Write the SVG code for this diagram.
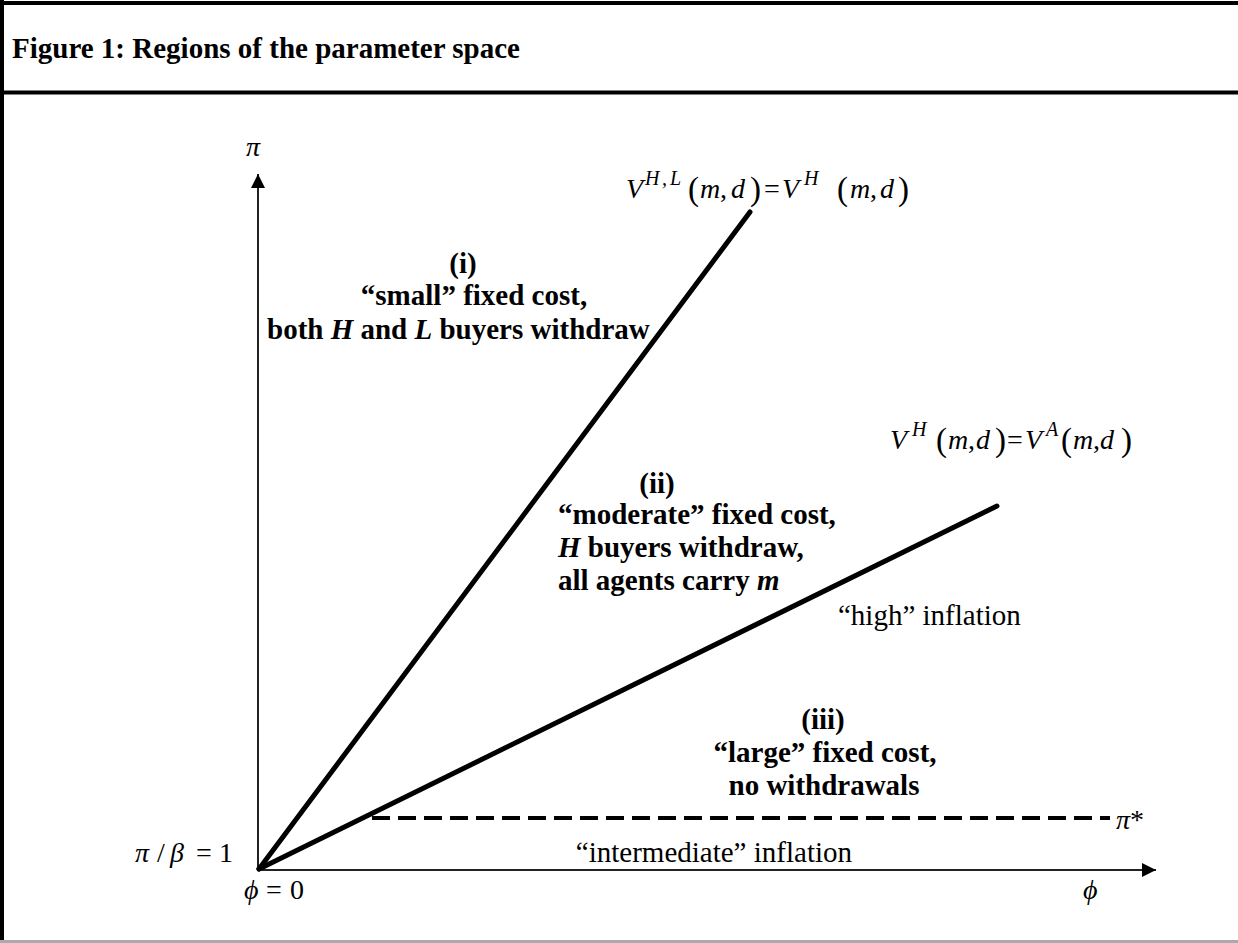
<svg xmlns="http://www.w3.org/2000/svg" width="1238" height="943" viewBox="0 0 1238 943">
<style>
text{font-family:"Liberation Serif","Times New Roman",serif;fill:#000}
.t{font-size:29px;font-weight:bold}
.b{font-size:29px;font-weight:bold}
.n{font-size:29px}
.m{font-size:28px;font-style:italic}
.u{font-size:28px;font-style:normal}
.p{font-size:33px;font-style:normal}
.sup{font-size:20px;font-style:italic}
.thick{stroke:#000;stroke-width:5;fill:none;stroke-linecap:round}
.axis{stroke:#222;stroke-width:2;fill:none}
</style>
<defs>
<marker id="ah" viewBox="0 0 10 10" refX="10" refY="5" markerWidth="15" markerHeight="14" markerUnits="userSpaceOnUse" orient="auto">
<path d="M0,0 L10,5 L0,10 z" fill="#000"/>
</marker>
</defs>
<rect width="1238" height="943" fill="#fff"/>
<g id="frame">
<line x1="0" y1="3" x2="1238" y2="3" stroke="#000" stroke-width="4"/>
<line x1="2" y1="0" x2="2" y2="943" stroke="#000" stroke-width="4"/>
<line x1="0" y1="92.5" x2="1238" y2="92.5" stroke="#000" stroke-width="4"/>
<line x1="0" y1="941.5" x2="1238" y2="941.5" stroke="#aaa" stroke-width="3"/>
</g>
<g id="title"><text class="t" x="12" y="58">Figure 1: Regions of the parameter space</text></g>
<g id="connectors">
<line class="axis" x1="258" y1="871" x2="258" y2="174" marker-end="url(#ah)"/>
<line class="axis" x1="257" y1="870" x2="1156" y2="870" marker-end="url(#ah)"/>
<line class="thick" x1="259" y1="869" x2="750" y2="212"/>
<line class="thick" x1="259" y1="869" x2="997" y2="506"/>
<line x1="372" y1="818" x2="1110" y2="818" stroke="#000" stroke-width="4" stroke-dasharray="18,8"/>
</g>
<g id="axis-labels">
<text class="m" x="246" y="156">π</text>
<text class="m" y="862"><tspan x="135">π</tspan><tspan x="157" class="u">/</tspan><tspan x="170">β</tspan><tspan x="196" class="u">=</tspan><tspan x="219" class="u">1</tspan></text>
<text class="m" y="899"><tspan x="244">ϕ</tspan><tspan x="266" class="u">=</tspan><tspan x="290" class="u">0</tspan></text>
<text class="m" x="1083" y="899">ϕ</text>
<text class="m" x="1116" y="829">π<tspan class="u">*</tspan></text>
</g>
<g id="curve-labels">
<text class="m" y="198"><tspan x="626">V</tspan><tspan class="sup" x="645" y="185">H</tspan><tspan class="sup" x="662">,</tspan><tspan class="sup" x="670">L</tspan><tspan class="p" x="688" y="200">(</tspan><tspan x="700" y="198">m</tspan><tspan class="u" x="720">,</tspan><tspan x="731">d</tspan><tspan class="p" x="750" y="200">)</tspan><tspan class="u" x="764" y="198">=</tspan><tspan x="782">V</tspan><tspan class="sup" x="804" y="185">H</tspan><tspan class="p" x="837" y="200">(</tspan><tspan x="850" y="198">m</tspan><tspan class="u" x="870">,</tspan><tspan x="880">d</tspan><tspan class="p" x="898" y="200">)</tspan></text>
<text class="m" y="449"><tspan x="890">V</tspan><tspan class="sup" x="912" y="436">H</tspan><tspan class="p" x="936" y="451">(</tspan><tspan x="948" y="449">m</tspan><tspan class="u" x="968">,</tspan><tspan x="976">d</tspan><tspan class="p" x="995" y="451">)</tspan><tspan class="u" x="1007" y="449">=</tspan><tspan x="1025">V</tspan><tspan class="sup" x="1046" y="436">A</tspan><tspan class="p" x="1061" y="451">(</tspan><tspan x="1073" y="449">m</tspan><tspan class="u" x="1093">,</tspan><tspan x="1100">d</tspan><tspan class="p" x="1121" y="451">)</tspan></text>
</g>
<g id="region-i">
<text class="b" x="463" y="273" text-anchor="middle">(i)</text>
<text class="b" x="474" y="305" text-anchor="middle">“small” fixed cost,</text>
<text class="b" x="267" y="339">both <tspan font-style="italic">H</tspan> and <tspan font-style="italic">L</tspan> buyers withdraw</text>
</g>
<g id="region-ii">
<text class="b" x="657" y="493" text-anchor="middle">(ii)</text>
<text class="b" x="558" y="524">“moderate” fixed cost,</text>
<text class="b" x="558" y="557"><tspan font-style="italic">H</tspan> buyers withdraw,</text>
<text class="b" x="558" y="590">all agents carry <tspan font-style="italic">m</tspan></text>
</g>
<g id="high"><text class="n" x="838" y="625">“high” inflation</text></g>
<g id="region-iii">
<text class="b" x="823" y="729" text-anchor="middle">(iii)</text>
<text class="b" x="825" y="762" text-anchor="middle">“large” fixed cost,</text>
<text class="b" x="824" y="795" text-anchor="middle">no withdrawals</text>
</g>
<g id="intermediate"><text class="n" x="852" y="862" text-anchor="end">“intermediate” inflation</text></g>
</svg>
